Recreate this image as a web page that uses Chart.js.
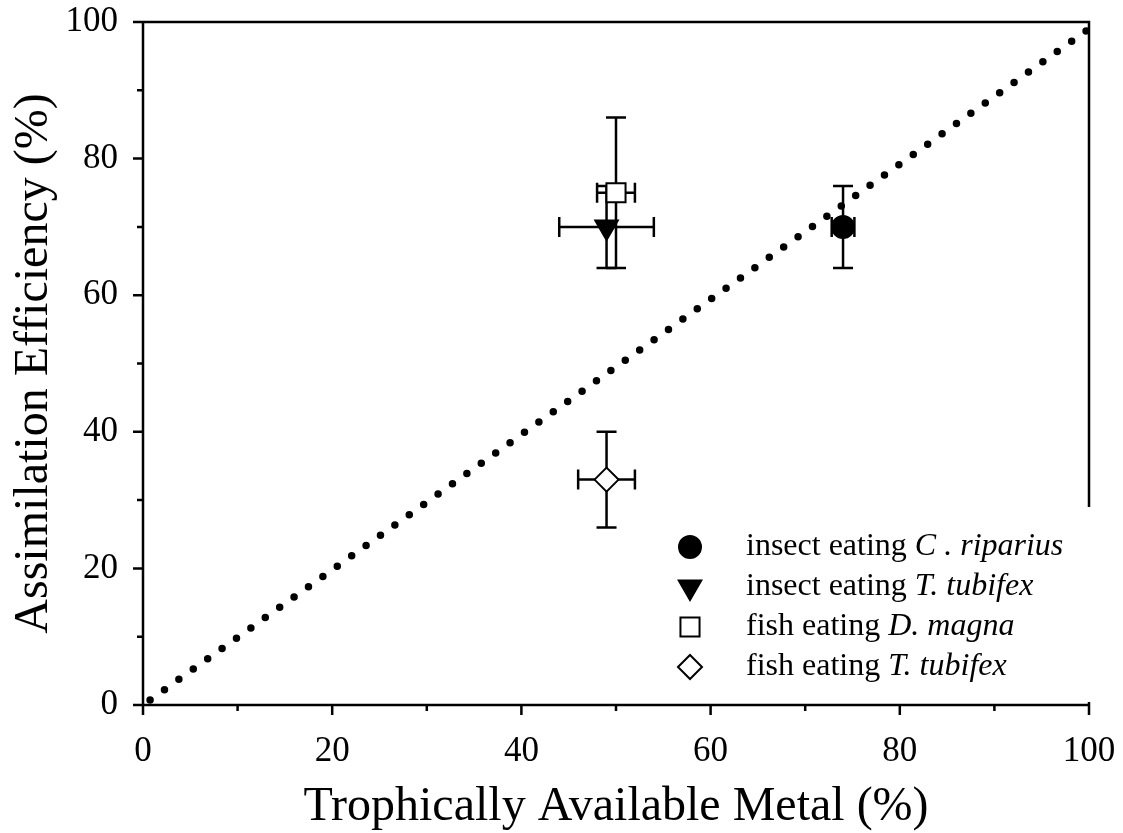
<!DOCTYPE html>
<html>
<head>
<meta charset="utf-8">
<script src="https://cdn.jsdelivr.net/npm/chart.js@4.4.1/dist/chart.umd.min.js"></script>
<style>
  html, body { margin: 0; padding: 0; background: #fff; }
  #wrap { width: 1123px; height: 833px; }
</style>
</head>
<body>
<div id="wrap"><canvas id="myChart"></canvas></div>
<script>
// values
var feeder = ['insect eating ', 'insect eating ', 'fish eating ', 'fish eating '];
var prey = ['C . riparius', 'T. tubifex', 'D. magna', 'T. tubifex'];
var metal = [74, 49, 50, 49];       // trophically available metal (%)
var metalLo = [72.8, 44, 48, 46];
var metalHi = [75.2, 54, 52, 52];
var assim = [70, 70, 75, 33];       // assimilation efficiency (%)
var assimLo = [64, 64, 64, 26];
var assimHi = [76, 76, 86, 40];
var lineX = [0, 100];               // 1:1 reference line
var lineY = [0, 99];

var serif = '"Liberation Serif", "Times New Roman", serif';
var marks = [
  { style: 'circle', r: 11, fill: '#000', rot: 0 },
  { style: 'triangle', r: 13, fill: '#000', rot: 180 },
  { style: 'rect', r: 13.5, fill: '#fff', rot: 0 },
  { style: 'rectRot', r: 12, fill: '#fff', rot: 0 }
];

var datasets = [];
for (var i = 0; i < metal.length; i++) {
  datasets.push({
    label: feeder[i] + prey[i],
    data: [{ x: metal[i], y: assim[i] }],
    pointStyle: marks[i].style,
    pointRadius: marks[i].r,
    pointRotation: marks[i].rot,
    backgroundColor: marks[i].fill,
    borderColor: '#000',
    borderWidth: 2,
    showLine: false,
    order: 1
  });
}
datasets.push({
  label: '1:1',
  data: lineX.map(function (x, k) { return { x: x, y: lineY[k] }; }),
  showLine: true,
  borderColor: '#000',
  borderWidth: 7.5,
  borderDash: [0, 17.7],
  borderDashOffset: 9,
  borderCapStyle: 'round',
  pointRadius: 0,
  order: 10
});

var errorBars = {
  id: 'errorBars',
  beforeDatasetsDraw: function (chart) {
    var ctx = chart.ctx, xs = chart.scales.x, ys = chart.scales.y;
    ctx.save();
    ctx.strokeStyle = '#000';
    ctx.lineWidth = 2.5;
    for (var i = 0; i < metal.length; i++) {
      var px = xs.getPixelForValue(metal[i]), py = ys.getPixelForValue(assim[i]);
      var x1 = xs.getPixelForValue(metalLo[i]), x2 = xs.getPixelForValue(metalHi[i]);
      var y1 = ys.getPixelForValue(assimLo[i]), y2 = ys.getPixelForValue(assimHi[i]);
      ctx.beginPath();
      ctx.moveTo(px, y1); ctx.lineTo(px, y2);
      ctx.moveTo(px - 10, y1); ctx.lineTo(px + 10, y1);
      ctx.moveTo(px - 10, y2); ctx.lineTo(px + 10, y2);
      ctx.moveTo(x1, py); ctx.lineTo(x2, py);
      ctx.moveTo(x1, py - 10); ctx.lineTo(x1, py + 10);
      ctx.moveTo(x2, py - 10); ctx.lineTo(x2, py + 10);
      ctx.stroke();
    }
    ctx.restore();
  }
};

var frame = {
  id: 'frame',
  afterDraw: function (chart) {
    var ctx = chart.ctx, a = chart.chartArea, xs = chart.scales.x, ys = chart.scales.y;
    ctx.save();
    ctx.strokeStyle = '#000';
    ctx.lineWidth = 2.5;
    ctx.beginPath();
    ctx.moveTo(a.left, a.bottom); ctx.lineTo(a.left, a.top);
    ctx.lineTo(a.right, a.top); ctx.lineTo(a.right, a.bottom);
    ctx.moveTo(a.left - 10, a.bottom); ctx.lineTo(a.right, a.bottom);
    for (var v = 0; v <= 100; v += 10) {
      var len = v % 20 === 0 ? 10 : 6;
      var x = xs.getPixelForValue(v), y = ys.getPixelForValue(v);
      ctx.moveTo(x, a.bottom); ctx.lineTo(x, a.bottom + len);
      ctx.moveTo(a.left - len, y); ctx.lineTo(a.left, y);
    }
    ctx.stroke();

    // axis titles
    ctx.fillStyle = '#000';
    ctx.font = '48px ' + serif;
    ctx.textAlign = 'center';
    ctx.textBaseline = 'alphabetic';
    ctx.fillText('Trophically Available Metal (%)', (a.left + a.right) / 2, 820);
    ctx.save();
    ctx.translate(47, (a.top + a.bottom) / 2);
    ctx.rotate(-Math.PI / 2);
    ctx.fillText('Assimilation Efficiency (%)', 0, 0);
    ctx.restore();

    // legend box
    ctx.fillStyle = '#fff';
    ctx.fillRect(636, 507, 460, 195);
    ctx.textAlign = 'left';
    ctx.textBaseline = 'middle';
    for (var i = 0; i < metal.length; i++) {
      var ly = 547 + i * 40;
      ctx.fillStyle = marks[i].fill;
      ctx.strokeStyle = '#000';
      ctx.lineWidth = 2;
      Chart.helpers.drawPoint(ctx, {
        pointStyle: marks[i].style, radius: marks[i].r, rotation: marks[i].rot, borderWidth: 2
      }, 690, ly);
      ctx.fillStyle = '#000';
      ctx.font = '32px ' + serif;
      ctx.fillText(feeder[i], 746, ly);
      var w = ctx.measureText(feeder[i]).width;
      ctx.font = 'italic 32px ' + serif;
      ctx.fillText(prey[i], 746 + w, ly);
    }
    ctx.restore();
  }
};

new Chart(document.getElementById('myChart'), {
  type: 'scatter',
  data: { datasets: datasets },
  plugins: [errorBars, frame],
  options: {
    responsive: true,
    maintainAspectRatio: false,
    animation: false,
    layout: { padding: { top: 22, right: 34, left: 0, bottom: 0 } },
    plugins: { legend: { display: false }, tooltip: { enabled: false } },
    scales: {
      x: {
        type: 'linear', min: 0, max: 100,
        grid: { display: false, drawTicks: false },
        border: { display: false },
        ticks: { stepSize: 20, padding: 26, color: '#000', font: { family: serif, size: 35 } },
        afterFit: function (s) { s.height = 128; s.paddingLeft = 0; s.paddingRight = 0; }
      },
      y: {
        type: 'linear', min: 0, max: 100,
        grid: { display: false, drawTicks: false },
        border: { display: false },
        ticks: { stepSize: 20, padding: 25, color: '#000', font: { family: serif, size: 35 } },
        afterFit: function (s) { s.width = 143; s.paddingTop = 0; s.paddingBottom = 0; }
      }
    }
  }
});
</script>
</body>
</html>
